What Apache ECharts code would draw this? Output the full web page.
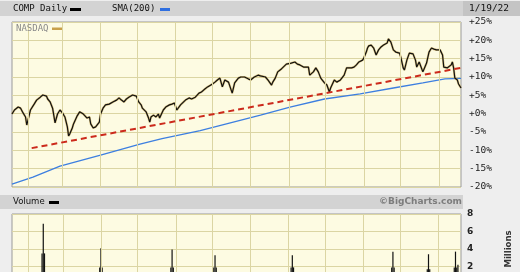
<!DOCTYPE html>
<html><head><meta charset="utf-8">
<script src="https://cdn.jsdelivr.net/npm/echarts@6/dist/echarts.min.js"></script>
<style>html,body{margin:0;padding:0;background:#eeeeee}#c{width:520px;height:272px}</style>
</head><body><div id="c"></div>
<script>
// ---- data ----
const priceDates = ['2021-01-19','2021-01-21','2021-01-24','2021-01-26','2021-01-28','2021-01-30','2021-01-31','2021-02-02','2021-02-03','2021-02-06',
'2021-02-08','2021-02-11','2021-02-13','2021-02-16','2021-02-17','2021-02-19','2021-02-21','2021-02-22','2021-02-23','2021-02-25',
'2021-02-27','2021-03-01','2021-03-03','2021-03-05','2021-03-06','2021-03-07','2021-03-09','2021-03-10','2021-03-13','2021-03-15',
'2021-03-18','2021-03-19','2021-03-21','2021-03-23','2021-03-24','2021-03-26','2021-03-27','2021-03-28','2021-03-31','2021-04-01',
'2021-04-03','2021-04-05','2021-04-08','2021-04-11','2021-04-14','2021-04-16','2021-04-18','2021-04-20','2021-04-22','2021-04-24',
'2021-04-27','2021-04-28','2021-04-30','2021-05-01','2021-05-02','2021-05-04','2021-05-05','2021-05-08','2021-05-10','2021-05-11',
'2021-05-12','2021-05-14','2021-05-16','2021-05-18','2021-05-19','2021-05-20','2021-05-22','2021-05-24','2021-05-27','2021-05-29',
'2021-05-31','2021-06-02','2021-06-05','2021-06-06','2021-06-09','2021-06-12','2021-06-14','2021-06-17','2021-06-20','2021-06-22',
'2021-06-24','2021-06-27','2021-06-28','2021-07-01','2021-07-03','2021-07-05','2021-07-07','2021-07-09','2021-07-11','2021-07-14',
'2021-07-15','2021-07-17','2021-07-19','2021-07-22','2021-07-24','2021-07-27','2021-07-30','2021-08-01','2021-08-04','2021-08-07',
'2021-08-09','2021-08-13','2021-08-15','2021-08-18','2021-08-19','2021-08-21','2021-08-23','2021-08-26','2021-08-27','2021-08-30',
'2021-08-31','2021-09-03','2021-09-06','2021-09-08','2021-09-10','2021-09-13','2021-09-14','2021-09-17','2021-09-18','2021-09-21',
'2021-09-23','2021-09-25','2021-09-27','2021-09-30','2021-10-02','2021-10-04','2021-10-05','2021-10-08','2021-10-10','2021-10-13',
'2021-10-16','2021-10-18','2021-10-22','2021-10-24','2021-10-26','2021-10-28','2021-10-31','2021-11-01','2021-11-03','2021-11-04',
'2021-11-05','2021-11-07','2021-11-09','2021-11-11','2021-11-13','2021-11-15','2021-11-17','2021-11-20','2021-11-21','2021-11-23',
'2021-11-25','2021-11-27','2021-11-30','2021-12-01','2021-12-03','2021-12-04','2021-12-06','2021-12-08','2021-12-09','2021-12-11',
'2021-12-13','2021-12-14','2021-12-16','2021-12-17','2021-12-19','2021-12-21','2021-12-22','2021-12-24','2021-12-26','2021-12-28',
'2021-12-30','2022-01-02','2022-01-04','2022-01-05','2022-01-06','2022-01-08','2022-01-09','2022-01-11','2022-01-12','2022-01-13',
'2022-01-14','2022-01-16','2022-01-17','2022-01-19'];
const priceChange = [-0.1,1.0,1.8,1.5,0.2,-0.9,-3.1,-0.4,1.0,2.6,
3.7,4.5,5.1,4.8,4.0,3.2,1.5,1.0,-2.5,-0.1,
1.0,0.2,-0.9,-3.6,-6.1,-5.5,-3.9,-2.8,-0.6,0.5,
-0.1,-0.6,-1.2,-0.9,-2.8,-3.9,-3.4,-3.6,-2.3,-0.1,
1.5,2.4,2.6,3.2,3.7,4.3,3.7,3.2,4.0,4.5,
5.1,5.6,4.8,4.3,3.2,2.4,1.5,0.5,-1.2,-2.3,
-0.9,-0.4,-0.9,-0.1,-1.2,-1.7,1.0,1.8,2.4,2.6,
2.9,1.0,2.4,2.9,3.7,4.3,4.0,4.5,5.6,5.9,
6.5,7.3,7.8,8.1,8.6,9.2,9.7,7.3,9.2,8.6,
8.4,5.6,8.4,9.7,10.0,10.0,9.5,9.2,10.0,10.5,
10.3,10.0,9.2,7.8,8.6,9.7,11.4,12.2,12.7,13.5,
13.8,13.8,14.1,13.5,13.3,12.7,12.5,12.7,10.5,11.4,
12.5,11.4,9.7,8.4,7.8,5.9,7.0,9.2,8.6,9.2,
10.5,12.5,12.5,12.7,13.3,14.1,14.6,15.2,16.8,17.9,
18.5,18.7,17.9,16.0,17.4,18.2,18.7,19.3,20.4,19.5,
17.4,16.8,16.5,15.5,12.5,11.9,14.6,16.5,16.8,16.3,
14.6,12.7,14.1,14.6,11.4,13.0,13.8,16.8,17.9,17.6,
17.4,17.4,16.0,12.7,12.2,12.5,12.5,13.3,14.1,12.5,
9.7,9.2,8.1,7.0];

const smaDates = ['2021-01-19','2021-02-05','2021-02-27','2021-04-01','2021-05-03','2021-05-21','2021-06-21','2021-08-09','2021-09-02','2021-09-30','2021-10-29','2021-11-25','2021-12-19','2022-01-06','2022-01-19'];
const smaValues = [-19.2,-17.3,-14.3,-11.3,-8.3,-6.8,-4.6,-0.4,1.8,4.0,5.4,7.0,8.4,9.5,9.6];

const trendDates = ['2021-02-04','2022-01-19'];
const trendValues = [-9.4,12.5];

const volDates = ['2021-02-12','2021-02-13','2021-02-14','2021-03-31','2021-04-01','2021-04-02','2021-05-28','2021-05-29','2021-05-30',
'2021-07-02','2021-07-03','2021-07-04','2021-09-03','2021-09-04','2021-09-05','2021-11-24','2021-11-25','2021-11-26',
'2021-12-23','2021-12-24','2021-12-25','2022-01-14','2022-01-15','2022-01-16','2022-01-17'];
const volMillions = [3.5,6.9,3.5,1.9,4.1,1.9,1.9,3.95,1.9,1.9,3.3,1.9,1.9,3.3,1.9,1.9,3.7,1.9,1.7,3.4,1.7,1.9,3.7,1.9,2.2];

const monthStarts = ['2021-02-01','2021-03-01','2021-04-01','2021-05-01','2021-06-01','2021-07-01','2021-08-01','2021-09-01','2021-10-01','2021-11-01','2021-12-01','2022-01-01'];
const pctTicks = [-20,-15,-10,-5,0,5,10,15,20,25];
const pctLabels = ['-20%','-15%','-10%','-5%','+0%','+5%','+10%','+15%','+20%','+25%'];
const volTicks = [0,2,4,6,8];
const volLabels = ['0','2','4','6','8'];

// ---- chart ----
const chart = echarts.init(document.getElementById('c'), null, {renderer:'canvas'});
const mono = '"DejaVu Sans Mono", monospace';
const sans = '"DejaVu Sans", Verdana, sans-serif';
const gridCol = '#dbd5a3';
const zip = (a,b) => a.map((d,i)=>[d,b[i]]);
const monthMark = () => ({silent:true, symbol:'none', animation:false, label:{show:false},
  lineStyle:{color:gridCol,width:1,type:'solid'}, emphasis:{disabled:true},
  data: monthStarts.map(d=>({xAxis:d}))});

const option = {
  backgroundColor:'#eeeeee',
  animation:false,
  grid:[
    {left:12,top:22,width:449,height:165,show:true,backgroundColor:'#fdfbe2',borderColor:'#9a9a9a',borderWidth:1,outerBoundsMode:'none',containLabel:false},
    {left:12,top:214,width:449,height:70,show:true,backgroundColor:'#fdfbe2',borderColor:'#9a9a9a',borderWidth:1,outerBoundsMode:'none',containLabel:false}
  ],
  xAxis:[
    {type:'time',gridIndex:0,min:'2021-01-19',max:'2022-01-19',axisLine:{show:false},axisTick:{show:false},axisLabel:{show:false},splitLine:{show:false}},
    {type:'time',gridIndex:1,min:'2021-01-19',max:'2022-01-19',axisLine:{show:false},axisTick:{show:false},axisLabel:{show:false},splitLine:{show:false}}
  ],
  yAxis:[
    {type:'value',gridIndex:0,position:'right',min:-20,max:25,interval:5,
     axisLine:{show:false},axisTick:{show:false},
     axisLabel:{margin:8,fontFamily:mono,fontSize:9.5,color:'#222',formatter:v=>pctLabels[pctTicks.indexOf(v)]},
     splitLine:{lineStyle:{color:gridCol,width:1}}},
    {type:'value',gridIndex:1,position:'right',min:0,max:8,interval:2,
     name:'Millions',nameLocation:'middle',nameRotate:90,nameGap:43,
     nameTextStyle:{fontFamily:sans,fontSize:8.5,fontWeight:'bold',color:'#333'},
     axisLine:{show:false},axisTick:{show:false},
     axisLabel:{margin:6,fontFamily:sans,fontSize:9,fontWeight:'bold',color:'#222',formatter:v=>volLabels[volTicks.indexOf(v)]},
     splitLine:{lineStyle:{color:gridCol,width:1}}}
  ],
  series:[
    {name:'SMA(200)',type:'line',xAxisIndex:0,yAxisIndex:0,data:zip(smaDates,smaValues),showSymbol:false,z:2,
     lineStyle:{color:'#3d7fe0',width:1.3},markLine:monthMark()},
    {name:'NASDAQ',type:'line',xAxisIndex:0,yAxisIndex:0,data:zip(priceDates,priceChange),showSymbol:false,z:3,
     lineStyle:{color:'#c8a656',width:2.2,opacity:0.7}},
    {name:'COMP Daily',type:'line',xAxisIndex:0,yAxisIndex:0,data:zip(priceDates,priceChange),showSymbol:false,z:4,
     lineStyle:{color:'#111111',width:1.2}},
    {name:'Trend',type:'line',xAxisIndex:0,yAxisIndex:0,data:zip(trendDates,trendValues),showSymbol:false,z:5,
     lineStyle:{color:'#cc2a1c',width:2,type:[6,4]}},
    {name:'Volume',type:'bar',xAxisIndex:1,yAxisIndex:1,data:zip(volDates,volMillions),barWidth:1.2,z:3,
     itemStyle:{color:'#111111'},markLine:monthMark()}
  ],
  graphic:[
    {type:'rect',silent:true,z:1,shape:{x:0,y:1,width:520,height:15},style:{fill:'#d3d3d3'}},
    {type:'rect',silent:true,z:2,shape:{x:463,y:1,width:57,height:15},style:{fill:'#c4c4c4'}},
    {type:'text',silent:true,z:5,style:{text:'COMP Daily',x:13,y:9,font:'9px '+mono,fill:'#111',textVerticalAlign:'middle',verticalAlign:'middle'}},
    {type:'rect',silent:true,z:5,shape:{x:70,y:8,width:11,height:3},style:{fill:'#000'}},
    {type:'text',silent:true,z:5,style:{text:'SMA(200)',x:112,y:9,font:'9px '+mono,fill:'#111',textVerticalAlign:'middle',verticalAlign:'middle'}},
    {type:'rect',silent:true,z:5,shape:{x:160,y:8,width:10,height:3},style:{fill:'#2f6fe0'}},
    {type:'text',silent:true,z:5,style:{text:'1/19/22',x:469,y:9,font:'9.5px '+mono,fill:'#111',textVerticalAlign:'middle',verticalAlign:'middle'}},
    {type:'text',silent:true,z:50,style:{text:'NASDAQ',x:16,y:28.5,font:'9px '+mono,fill:'#8a8a8a',textVerticalAlign:'middle',verticalAlign:'middle'}},
    {type:'rect',silent:true,z:50,shape:{x:52,y:27.5,width:10,height:2.5},style:{fill:'#c8a04a'}},
    {type:'rect',silent:true,z:1,shape:{x:0,y:195,width:463,height:14},style:{fill:'#d3d3d3'}},
    {type:'text',silent:true,z:5,style:{text:'Volume',x:13,y:202,font:'8.5px '+sans,fill:'#111',textVerticalAlign:'middle',verticalAlign:'middle'}},
    {type:'rect',silent:true,z:5,shape:{x:49,y:201,width:10,height:3},style:{fill:'#000'}},
    {type:'text',silent:true,z:5,style:{text:'©BigCharts.com',x:462,y:202,font:'bold 9px '+sans,fill:'#7d7d7d',textAlign:'right',align:'right',textVerticalAlign:'middle',verticalAlign:'middle'}}
  ]
};
chart.setOption(option);
</script>
</body></html>
